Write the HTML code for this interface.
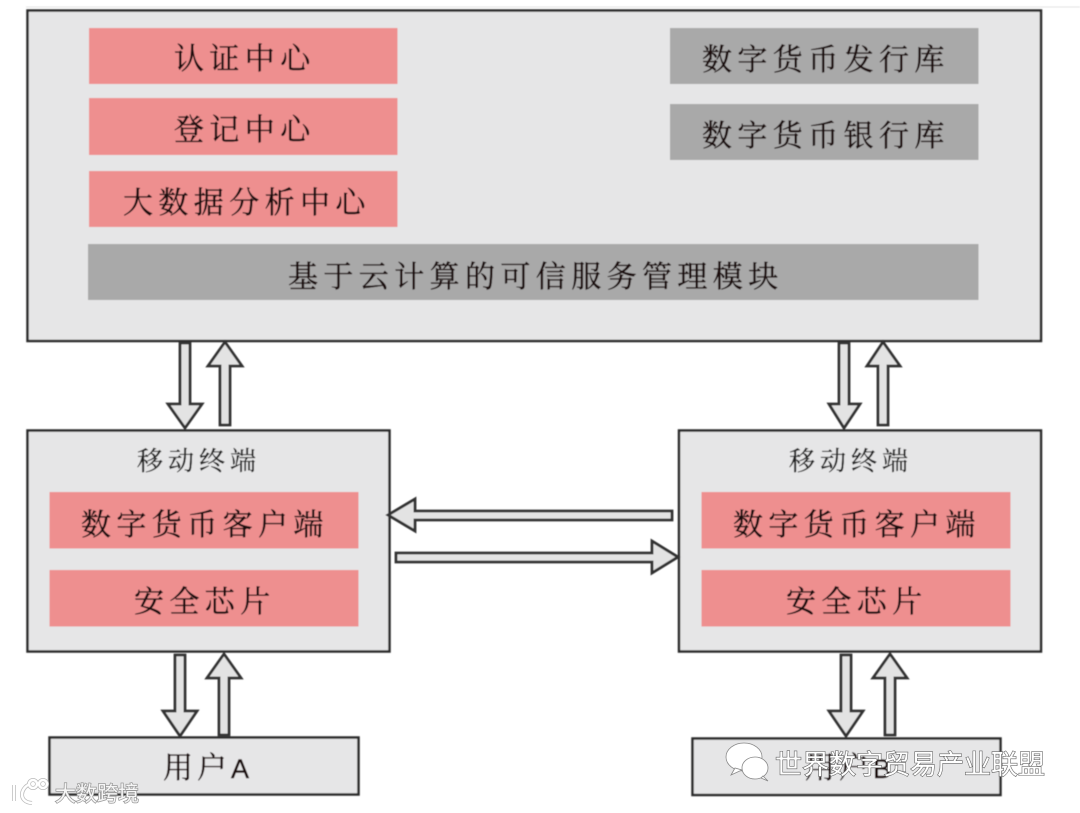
<!DOCTYPE html>
<html lang="zh">
<head>
<meta charset="utf-8">
<style>
html,body{margin:0;padding:0;background:#fff;width:1080px;height:813px;overflow:hidden}
svg{display:block}
.t{font-family:"Liberation Serif","Noto Serif CJK SC",serif;fill:#1c1010;stroke:#1c1010;stroke-width:.45;font-size:30px;letter-spacing:5.4px}
.s{font-family:"Liberation Serif","Noto Serif CJK SC",serif;fill:#222;stroke:#222;stroke-width:.35;font-size:26px;letter-spacing:5px}
.box{fill:#e6e6e7;stroke:#2c2c2c;stroke-width:2.5}
.red{fill:#ee8f8f}
.gr{fill:#a9a9a9}
.ar{fill:#e3e3e3;stroke:#333;stroke-width:2.8;stroke-linejoin:miter}
.wm{font-family:"Liberation Sans","Noto Sans CJK SC",sans-serif;fill:#fff;stroke:#666;stroke-width:1.2px;paint-order:stroke}
</style>
</head>
<body>
<svg width="1080" height="813" viewBox="0 0 1080 813" xmlns="http://www.w3.org/2000/svg">
<defs><filter id="b" x="-5%" y="-5%" width="110%" height="110%"><feGaussianBlur stdDeviation="0.45"/></filter></defs>
<g filter="url(#b)">
<line x1="26" y1="7" x2="1080" y2="7" stroke="#e4e4e4" stroke-width="1"/>
<!-- top box -->
<path d="M27.500 10.500H1041V341H27.500Z" class="box"/>
<rect x="89" y="28" width="308.500" height="56" class="red"/>
<rect x="89" y="98" width="308.500" height="57" class="red"/>
<rect x="89" y="171" width="308.500" height="56" class="red"/>
<rect x="670" y="28" width="308.500" height="56" class="gr"/>
<rect x="670" y="104" width="308.500" height="56" class="gr"/>
<rect x="88" y="244" width="890.500" height="56" class="gr"/>
<text class="t" x="174" y="69">认证中心</text>
<text class="t" x="174" y="140">登记中心</text>
<text class="t" x="123" y="213">大数据分析中心</text>
<text class="t" x="702" y="70">数字货币发行库</text>
<text class="t" x="702" y="146">数字货币银行库</text>
<text class="t" x="288" y="287">基于云计算的可信服务管理模块</text>
<!-- terminals -->
<rect x="27.500" y="430.500" width="362" height="221" class="box"/>
<rect x="679" y="430.500" width="362" height="221" class="box"/>
<rect x="49.500" y="492" width="309" height="56.500" class="red"/>
<rect x="49.500" y="570" width="309" height="56.500" class="red"/>
<rect x="701.500" y="492" width="309" height="56.500" class="red"/>
<rect x="701.500" y="570" width="309" height="56.500" class="red"/>
<text class="s" x="137" y="470">移动终端</text>
<text class="s" x="789" y="470">移动终端</text>
<text class="t" x="81" y="535">数字货币客户端</text>
<text class="t" x="134" y="612">安全芯片</text>
<text class="t" x="733" y="535">数字货币客户端</text>
<text class="t" x="786" y="612">安全芯片</text>
<!-- users -->
<rect x="49.500" y="737.500" width="309" height="57" class="box"/>
<rect x="692.500" y="738.500" width="308" height="56.500" class="box"/>
<text class="t" x="163" y="778" style="letter-spacing:4px">用户<tspan font-family="Liberation Sans" font-size="27">A</tspan></text>
<text class="t" x="805" y="778" style="letter-spacing:4px">用户<tspan font-family="Liberation Sans" font-size="27">B</tspan></text>
<!-- vertical arrows -->
<path class="ar" d="M180 343H190V404H202L185 428L168 404H180Z"/>
<path class="ar" d="M220 425H230V366H242L225 342L208 366H220Z"/>
<path class="ar" d="M839 343H849V404H860L844 428L829 404H839Z"/>
<path class="ar" d="M878 425H888V366H900L883 342L867 366H878Z"/>
<path class="ar" d="M175 655H185V711H197L180 736L163 711H175Z"/>
<path class="ar" d="M219 735H229V678H241L224 654L207 678H219Z"/>
<path class="ar" d="M841 655H851V711H863L846 736L829 711H841Z"/>
<path class="ar" d="M885 735H895V678H907L890 654L873 678H885Z"/>
<!-- horizontal arrows -->
<path class="ar" d="M672 511H415V499L388 515L415 531V520H672Z"/>
<path class="ar" d="M396 553H652V541L678 557L652 573V562H396Z"/>
</g>
<!-- watermarks -->
<g fill="#fff" stroke="#888" stroke-width=".8">
<ellipse cx="744" cy="757" rx="18" ry="14"/>
<path d="M735 768L731 775L742 770Z"/>
<ellipse cx="755" cy="768" rx="13" ry="11"/>
<path d="M763 776L768 781L761 778Z"/>
</g>
<text class="wm" x="775" y="774" font-size="27">世界数字贸易产业联盟</text>
<g fill="none" stroke="#bbb" stroke-width="4">
<path d="M14 785V801M30 784C20 788 18 802 32 803"/>
<circle cx="33" cy="784" r="4"/><circle cx="43" cy="784" r="4"/>
</g>
<g fill="none" stroke="#fff" stroke-width="2.500">
<path d="M14 785V801M30 784C20 788 18 802 32 803"/>
<circle cx="33" cy="784" r="4"/><circle cx="43" cy="784" r="4"/>
</g>
<text class="wm" x="55" y="801" font-size="21" style="fill:#f6f6f6;stroke:#999;stroke-width:1.5px">大数跨境</text>
</svg>
</body>
</html>
